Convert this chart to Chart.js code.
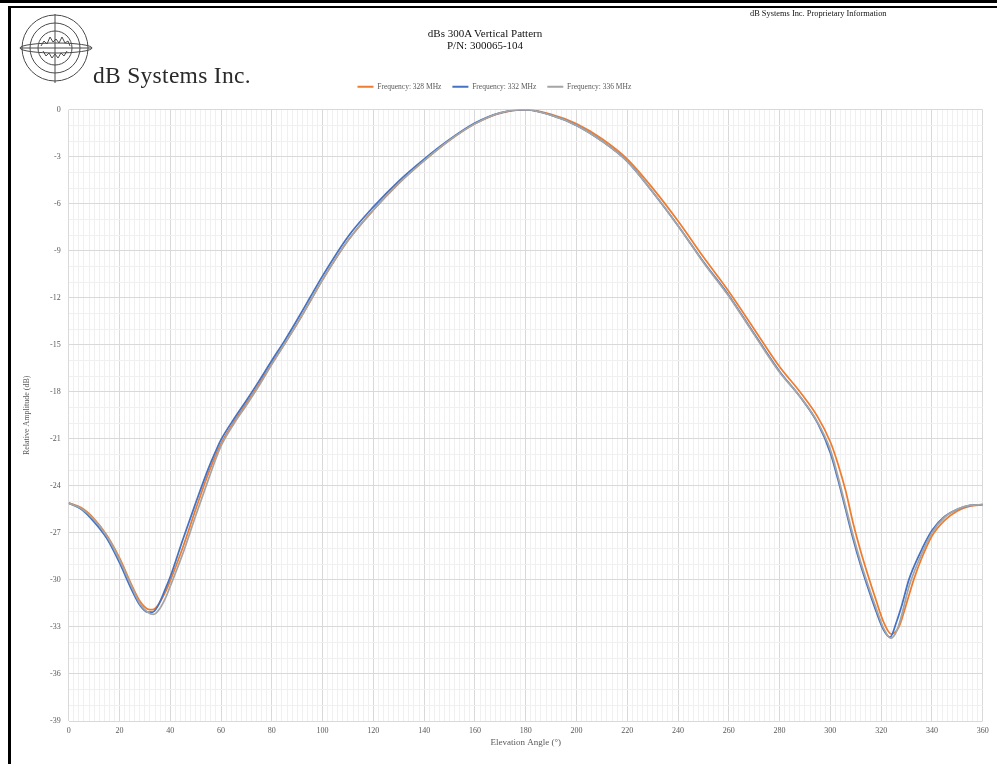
<!DOCTYPE html>
<html>
<head>
<meta charset="utf-8">
<script src="https://cdn.jsdelivr.net/npm/chart.js@4.4.1/dist/chart.umd.min.js"></script>
<style>
  body { margin: 0; background: #fff; }
  #page { position: relative; width: 997px; height: 764px; overflow: hidden; background: #fff;
          font-family: "Liberation Serif", "Times New Roman", serif; }
  .band { position: absolute; left: 0; top: 0; width: 997px; height: 3px; background: #000; }
  .frame { position: absolute; left: 8px; top: 6px; width: 1000px; height: 800px;
           border-top: 2px solid #000; border-left: 3px solid #000; }
  .txt { position: absolute; white-space: nowrap; z-index: 2; }
  #chart { position: absolute; left: 0; top: 0; z-index: 1; }
</style>
</head>
<body>
<div id="page">
  <div class="band"></div>
  <div class="frame"></div>
  <svg style="position:absolute;left:0;top:0;z-index:2" width="100" height="100">
    <g fill="none" stroke="#4a4a4a" stroke-width="1">
      <circle cx="55" cy="48" r="33"/>
      <circle cx="55" cy="48" r="25"/>
      <circle cx="55" cy="48" r="17"/>
      <ellipse cx="56" cy="48" rx="36" ry="5"/>
      <line x1="55" y1="14" x2="55" y2="83"/>
      <line x1="20" y1="48" x2="92" y2="48"/>
      <polyline points="41,46 44,41 47,44 50,37 53,42 56,39 59,43 62,37 65,43 68,41 70,46"/>
      <polyline points="43,51 46,56 49,53 52,58 55,54 58,58 61,53 64,56 67,51"/>
    </g>
  </svg>
  <div class="txt" style="left:93px;top:64px;font-size:23.5px;line-height:23px;letter-spacing:0.3px;color:#2a2a2a">dB Systems Inc.</div>
  <div class="txt" style="left:750px;top:10px;font-size:8.4px;line-height:8px;color:#111">dB Systems Inc. Proprietary Information</div>
  <div class="txt" style="left:385px;width:200px;top:27px;font-size:11px;line-height:12px;text-align:center;color:#111">dBs 300A Vertical Pattern<br>P/N: 300065-104</div>
  <canvas id="chart" width="997" height="764"></canvas>
</div>
<script>
// values (angle in degrees, amplitude in dB)
const angles328 = [0, 5, 10, 15, 20, 25, 28, 31, 33, 35, 38, 40, 45, 50, 55, 58, 60, 65, 70, 75, 80, 85, 90, 95, 100,
  110, 120, 130, 140, 150, 160, 170, 180, 190, 200, 210, 220, 230, 240, 250, 260, 270, 280, 288, 295,
  300, 303, 306, 309, 312, 315, 318, 321, 324, 327, 330, 333, 336, 340, 345, 350, 355, 360];
const amp328 = [-25.1, -25.4, -26.1, -27.15, -28.6, -30.4, -31.35, -31.85, -31.9, -31.65, -30.8, -30.05, -27.9, -25.5, -23.2,
  -22.0, -21.3, -19.95, -18.75, -17.5, -16.2, -14.95, -13.65, -12.25, -10.85,
  -8.35, -6.4, -4.7, -3.25, -1.95, -0.9, -0.22, 0, -0.3, -0.9, -1.85, -3.15, -5.0, -7.1, -9.4, -11.6, -14.0, -16.4, -18.0, -19.6,
  -21.2, -22.6, -24.3, -26.4, -28.2, -29.8, -31.3, -32.7, -33.45, -33.0, -31.5, -29.9, -28.6, -27.2, -26.2, -25.6, -25.3, -25.2];

const angles332 = [0, 5, 10, 15, 20, 25, 28, 31, 33, 35, 38, 40, 45, 50, 55, 58, 60, 65, 70, 75, 80, 85, 90, 95, 100,
  110, 120, 130, 140, 150, 160, 170, 180, 190, 200, 210, 220, 230, 240, 250, 260, 270, 280, 288, 295,
  300, 303, 306, 309, 312, 315, 318, 321, 323.5, 326, 328, 331, 335, 340, 345, 350, 355, 360];
const amp332 = [-25.1, -25.5, -26.3, -27.35, -28.9, -30.7, -31.6, -32.05, -32.05, -31.7, -30.6, -29.8, -27.4, -25.1, -22.9,
  -21.75, -21.05, -19.75, -18.55, -17.3, -16.0, -14.75, -13.4, -12.0, -10.6,
  -8.1, -6.2, -4.55, -3.15, -1.9, -0.85, -0.2, 0, -0.35, -1.0, -2.0, -3.3, -5.25, -7.4, -9.7, -11.85, -14.3, -16.7, -18.3, -20.0,
  -21.9, -23.6, -25.5, -27.4, -29.1, -30.6, -32.0, -33.2, -33.65, -32.7, -31.7, -29.95, -28.4, -26.85, -25.95, -25.5, -25.25, -25.2];

const angles336 = [0, 5, 10, 15, 20, 25, 28, 31, 33.5, 36, 38, 40, 45, 50, 55, 58, 60, 65, 70, 75, 80, 85, 90, 95, 100,
  110, 120, 130, 140, 150, 160, 170, 180, 190, 200, 210, 220, 230, 240, 250, 260, 270, 280, 288, 295,
  300, 303, 306, 309, 312, 315, 318, 321, 323.8, 326, 328, 331, 335, 340, 345, 350, 355, 360];
const amp336 = [-25.1, -25.45, -26.15, -27.2, -28.7, -30.5, -31.5, -32.05, -32.2, -31.8, -31.2, -30.4, -28.3, -25.9, -23.6,
  -22.25, -21.45, -20.05, -18.85, -17.6, -16.25, -14.95, -13.65, -12.25, -10.85,
  -8.35, -6.4, -4.7, -3.25, -1.95, -0.9, -0.2, 0, -0.35, -1.0, -2.0, -3.3, -5.25, -7.4, -9.75, -11.9, -14.35, -16.75, -18.3, -19.95,
  -21.7, -23.4, -25.3, -27.2, -28.9, -30.4, -31.8, -33.1, -33.72, -33.3, -32.3, -30.4, -28.7, -27.0, -26.0, -25.5, -25.25, -25.2];

const seriesLabels = ["Frequency: 328 MHz", "Frequency: 332 MHz", "Frequency: 336 MHz"];
const seriesColors = ["#ED7D31", "#4472C4", "#A5A5A5"];
const xTitle = "Elevation Angle (°)";
const yTitle = "Relative Amplitude (dB)";

const serif = "'Liberation Serif', 'Times New Roman', serif";
const grey = "#595959";

function points(xs, ys) {
  return xs.map((x, i) => ({ x: x, y: ys[i] }));
}

// stretch the legend box so the plot starts where it does in the reference,
// and nudge the row a little left like the original
const legendGap = {
  id: "legendGap",
  beforeInit(chart) {
    if (!chart.legend) return;
    const fit = chart.legend.fit;
    chart.legend.fit = function () {
      fit.call(this);
      this.height = 109.7 - 72;
    };
  },
  afterLayout(chart) {
    if (!chart.legend) return;
    chart.legend.right -= 16;
    chart.legend.width -= 16;
  }
};

new Chart(document.getElementById("chart"), {
  type: "line",
  data: {
    datasets: [
      { label: seriesLabels[0], data: points(angles328, amp328), borderColor: seriesColors[0], backgroundColor: seriesColors[0], order: 3 },
      { label: seriesLabels[1], data: points(angles332, amp332), borderColor: seriesColors[1], backgroundColor: seriesColors[1], order: 2 },
      { label: seriesLabels[2], data: points(angles336, amp336), borderColor: seriesColors[2], backgroundColor: seriesColors[2], order: 1 }
    ]
  },
  options: {
    responsive: false,
    animation: false,
    elements: {
      point: { radius: 0 },
      line: { borderWidth: 1.75, cubicInterpolationMode: "monotone" }
    },
    layout: { padding: { left: 22, right: 14.3, top: 72, bottom: 16 } },
    plugins: {
      legend: {
        position: "top",
        labels: {
          usePointStyle: true,
          pointStyle: "line",
          pointStyleWidth: 16,
          padding: 11,
          color: grey,
          font: { family: serif, size: 7.5 },
          sort: (a, b) => a.datasetIndex - b.datasetIndex,
          generateLabels: (chart) => chart.data.datasets.map((ds, i) => ({
            text: ds.label,
            fillStyle: ds.borderColor,
            strokeStyle: ds.borderColor,
            lineWidth: 2,
            pointStyle: "line",
            fontColor: grey,
            hidden: false,
            datasetIndex: i
          }))
        }
      },
      tooltip: { enabled: false }
    },
    scales: {
      x: {
        type: "linear",
        min: 0,
        max: 360,
        afterFit: (s) => { s.height = 27; },
        border: { display: false },
        grid: {
          drawTicks: false,
          lineWidth: 1,
          color: (c) => (c.tick && c.tick.value % 20 === 0 ? "#d9d9d9" : "#f0f0f0")
        },
        ticks: {
          stepSize: 2,
          autoSkip: false,
          maxRotation: 0,
          padding: 5,
          color: grey,
          font: { family: serif, size: 8 },
          callback: (v) => (v % 20 === 0 ? v : "")
        },
        title: { display: true, text: xTitle, color: grey, padding: 0, font: { family: serif, size: 9 } }
      },
      y: {
        min: -39,
        max: 0,
        afterFit: (s) => { s.width = 46.7; },
        border: { display: false },
        grid: {
          drawTicks: false,
          lineWidth: 1,
          color: (c) => (c.tick && c.tick.value % 3 === 0 ? "#d9d9d9" : "#f0f0f0")
        },
        ticks: {
          stepSize: 1,
          autoSkip: false,
          padding: 8,
          color: grey,
          font: { family: serif, size: 8 },
          callback: (v) => (v % 3 === 0 ? v : "")
        },
        title: { display: true, text: yTitle, color: grey, padding: 0, font: { family: serif, size: 8 } }
      }
    }
  },
  plugins: [legendGap]
});
</script>
</body>
</html>
